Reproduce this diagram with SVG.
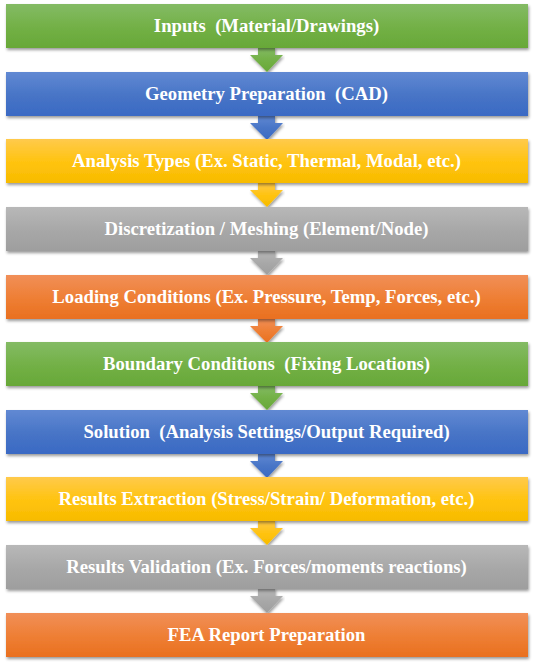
<svg xmlns="http://www.w3.org/2000/svg" width="534" height="665" viewBox="0 0 534 665">
<defs>
<linearGradient id="gGreen" x1="0" y1="0" x2="0" y2="1"><stop offset="0" stop-color="#84bb65"/><stop offset="0.55" stop-color="#72b045"/><stop offset="1" stop-color="#68a838"/></linearGradient>
<linearGradient id="gBlue" x1="0" y1="0" x2="0" y2="1"><stop offset="0" stop-color="#6189d3"/><stop offset="0.55" stop-color="#4774c6"/><stop offset="1" stop-color="#3a6ac4"/></linearGradient>
<linearGradient id="gGold" x1="0" y1="0" x2="0" y2="1"><stop offset="0" stop-color="#ffca4c"/><stop offset="0.55" stop-color="#ffc30d"/><stop offset="1" stop-color="#f7bb00"/></linearGradient>
<linearGradient id="gGray" x1="0" y1="0" x2="0" y2="1"><stop offset="0" stop-color="#b8b8b8"/><stop offset="0.55" stop-color="#a7a7a7"/><stop offset="1" stop-color="#9e9e9e"/></linearGradient>
<linearGradient id="gOrange" x1="0" y1="0" x2="0" y2="1"><stop offset="0" stop-color="#f18f58"/><stop offset="0.55" stop-color="#ee7e33"/><stop offset="1" stop-color="#e97020"/></linearGradient>
<filter id="sh" x="-5%" y="-30%" width="110%" height="160%">
<feDropShadow dx="1" dy="2" stdDeviation="1.5" flood-color="#000" flood-opacity="0.4"/>
</filter>
</defs>
<style>
.box{filter:url(#sh);}
.lbl{font-family:"Liberation Serif","Times New Roman",serif;font-weight:bold;font-size:18.7px;fill:#fff;text-anchor:middle;}
.arr{filter:url(#sh);}
</style>
<rect width="534" height="665" fill="#fff"/>
<g id="connectors">
<path class="arr" fill="url(#gGreen)" d="M258,47 H275 V55 H283 L267,72 L250,55 H258 Z"/>
<path class="arr" fill="url(#gBlue)" d="M258,115 H275 V123 H283 L267,140 L250,123 H258 Z"/>
<path class="arr" fill="url(#gGold)" d="M258,182 H275 V190 H283 L267,207 L250,190 H258 Z"/>
<path class="arr" fill="url(#gGray)" d="M258,250 H275 V258 H283 L267,275 L250,258 H258 Z"/>
<path class="arr" fill="url(#gOrange)" d="M258,318 H275 V326 H283 L267,343 L250,326 H258 Z"/>
<path class="arr" fill="url(#gGreen)" d="M258,385 H275 V393 H283 L267,410 L250,393 H258 Z"/>
<path class="arr" fill="url(#gBlue)" d="M258,453 H275 V461 H283 L267,478 L250,461 H258 Z"/>
<path class="arr" fill="url(#gGold)" d="M258,520 H275 V528 H283 L267,545 L250,528 H258 Z"/>
<path class="arr" fill="url(#gGray)" d="M258,588 H275 V596 H283 L267,613 L250,596 H258 Z"/>
</g>
<g id="n1"><rect class="box" x="6" y="4" width="522" height="44" fill="url(#gGreen)"/><text class="lbl" x="266.5" y="32" xml:space="preserve">Inputs  (Material/Drawings)</text></g>
<g id="n2"><rect class="box" x="6" y="72" width="522" height="44" fill="url(#gBlue)"/><text class="lbl" x="266.5" y="100" xml:space="preserve">Geometry Preparation  (CAD)</text></g>
<g id="n3"><rect class="box" x="6" y="139" width="522" height="44" fill="url(#gGold)"/><text class="lbl" x="266.5" y="167">Analysis Types (Ex. Static, Thermal, Modal, etc.)</text></g>
<g id="n4"><rect class="box" x="6" y="207" width="522" height="44" fill="url(#gGray)"/><text class="lbl" x="266.5" y="235">Discretization / Meshing (Element/Node)</text></g>
<g id="n5"><rect class="box" x="6" y="275" width="522" height="44" fill="url(#gOrange)"/><text class="lbl" x="266.5" y="303">Loading Conditions (Ex. Pressure, Temp, Forces, etc.)</text></g>
<g id="n6"><rect class="box" x="6" y="342" width="522" height="44" fill="url(#gGreen)"/><text class="lbl" x="266.5" y="370" xml:space="preserve">Boundary Conditions  (Fixing Locations)</text></g>
<g id="n7"><rect class="box" x="6" y="410" width="522" height="44" fill="url(#gBlue)"/><text class="lbl" x="266.5" y="438" xml:space="preserve">Solution  (Analysis Settings/Output Required)</text></g>
<g id="n8"><rect class="box" x="6" y="477" width="522" height="44" fill="url(#gGold)"/><text class="lbl" x="266.5" y="505">Results Extraction (Stress/Strain/ Deformation, etc.)</text></g>
<g id="n9"><rect class="box" x="6" y="545" width="522" height="44" fill="url(#gGray)"/><text class="lbl" x="266.5" y="573">Results Validation (Ex. Forces/moments reactions)</text></g>
<g id="n10"><rect class="box" x="6" y="613" width="522" height="44" fill="url(#gOrange)"/><text class="lbl" x="266.5" y="641">FEA Report Preparation</text></g>
</svg>
